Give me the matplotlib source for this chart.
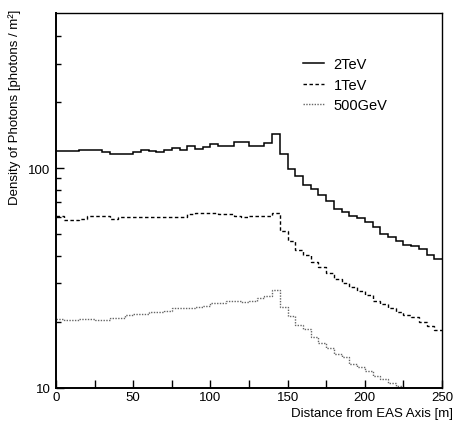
import numpy as np
import matplotlib
matplotlib.use("Agg")
import matplotlib.pyplot as plt
from matplotlib.ticker import FixedLocator, NullFormatter, FixedFormatter

# ---- data (bin width 5 m) ----
edges_2tev = list(range(0, 255, 5))
tev2 = [120, 120, 120, 121, 121, 121, 119, 116.5, 116.5, 116.5,
        119, 120.8, 120, 119, 121, 124, 121.5, 126, 123, 125.5,
        128.5, 126, 126.5, 132, 132.5, 126.5, 126.5, 131, 143.5, 116,
        99, 92.5, 84, 80.5, 76, 71, 65.2, 63, 60.5, 59.2,
        56.8, 53.9, 50.2, 48.8, 46.8, 44.8, 44.1, 43, 40.3, 38.7]

tev1 = [60.8, 58.3, 58.3, 58.6, 60.5, 60.5, 60.5, 58.8, 59.8, 59.8,
        59.8, 59.8, 60.2, 60.2, 60.2, 60.2, 60.2, 61.7, 62.4, 62.4,
        62.4, 61.7, 61.7, 61.0, 60.0, 60.9, 60.9, 60.9, 62.4, 51.8,
        46.8, 42.7, 40.3, 37.3, 35.5, 33.4, 31.4, 30.0, 28.8, 27.6,
        26.5, 25.0, 24.2, 23.1, 22.2, 21.5, 21.0, 20.0, 19.2, 18.3]

gev500 = [20.6, 20.5, 20.5, 20.6, 20.7, 20.3, 20.4, 20.8, 20.9, 21.4,
          21.8, 21.8, 22.1, 22.2, 22.5, 23.2, 23.1, 23.1, 23.4, 23.6,
          24.3, 24.4, 24.8, 24.8, 24.6, 25.0, 25.7, 26.3, 28.0, 23.5,
          21.2, 19.3, 18.6, 17.0, 16.1, 15.2, 14.3, 13.8, 12.9, 12.4,
          11.9, 11.4, 11.0, 10.5, 10.2, 9.6]
edges_500 = list(range(0, 5 * len(gev500) + 1, 5))

labels = ["2TeV", "1TeV", "500GeV"]
x_major = [0, 50, 100, 150, 200, 250]
x_ticks = list(range(0, 255, 25))
y_major = [10, 100]
y_minor = [20, 30, 40, 50, 60, 70, 80, 90, 200, 300, 400]

plt.rcParams['font.family'] = ['Liberation Sans', 'DejaVu Sans']

fig = plt.figure(figsize=(4.54, 4.27), dpi=100)
ax = fig.add_axes([56 / 454, 1 - 389 / 427, (442 - 56) / 454, (389 - 14) / 427])

ax.stairs(tev2, edges_2tev, baseline=None, color='black', lw=1.1, label=labels[0])
ax.stairs(tev1, edges_2tev, baseline=None, color='black', lw=1.0,
          linestyle=(0, (2.5, 1.8)), label=labels[1])
ax.stairs(gev500, edges_500, baseline=None, color='#666666', lw=1.0,
          linestyle=(0, (1, 1)), label=labels[2])

ax.set_yscale('log')
ax.set_xlim(0, 250)
ax.set_ylim(10, 510)

ax.xaxis.set_major_locator(FixedLocator(x_ticks))
ax.xaxis.set_major_formatter(FixedFormatter([str(t) if t % 50 == 0 else '' for t in x_ticks]))
ax.xaxis.set_minor_locator(FixedLocator([]))
ax.yaxis.set_major_locator(FixedLocator(y_major))
ax.yaxis.set_major_formatter(FixedFormatter([str(v) for v in y_major]))
ax.yaxis.set_minor_locator(FixedLocator(y_minor))
ax.yaxis.set_minor_formatter(NullFormatter())

ax.tick_params(axis='x', which='major', direction='in', length=6, width=1, labelsize=9.5, pad=2)
ax.tick_params(axis='y', which='major', direction='in', length=6, width=1, labelsize=9.5, pad=4)
ax.tick_params(axis='y', which='minor', direction='in', length=3.5, width=1)
ax.tick_params(top=False, right=False, which='both')
for s in ax.spines.values():
    s.set_linewidth(1.0)
ax.spines['left'].set_linewidth(1.4)
ax.spines['bottom'].set_linewidth(1.4)

fig.text(453 / 454, 1 - 414 / 427, "Distance from EAS Axis [m]", ha='right', va='center', fontsize=9.5)
fig.text(15 / 454, 1 - 10 / 427, "Density of Photons [photons / m²]", rotation=90,
         ha='center', va='top', fontsize=9.5)

leg = ax.legend(loc='upper left', bbox_to_anchor=(0.625, 0.898), frameon=False,
                fontsize=10.5, handlelength=1.4, handletextpad=0.7, labelspacing=0.45,
                borderaxespad=0)

fig.savefig("out.png", dpi=100)
